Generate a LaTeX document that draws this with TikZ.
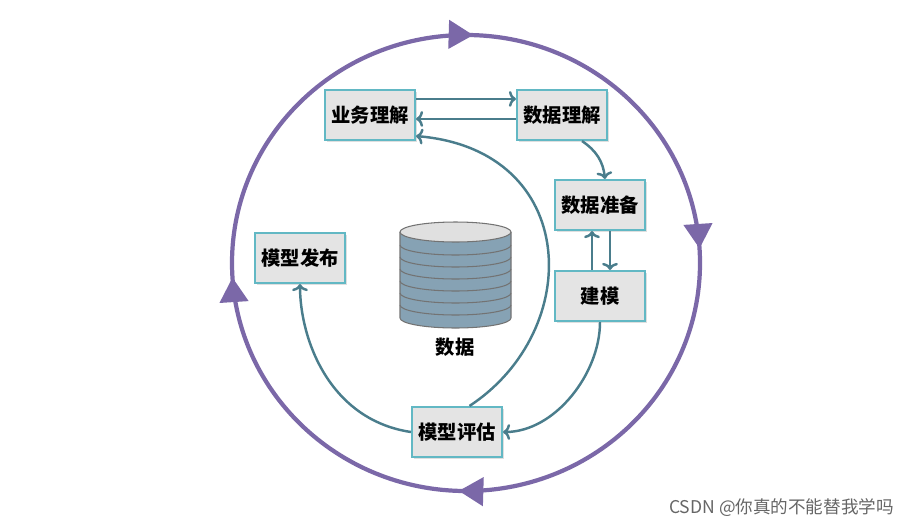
\documentclass[tikz,border=0pt]{standalone}
\usepackage{fontspec}
\newfontfamily\cjk{Noto Sans CJK SC}
\usetikzlibrary{positioning,shadows,arrows.meta,decorations.markings}
\definecolor{cyclecol}{HTML}{7B68A8}
\definecolor{flowcol}{HTML}{4A7D8C}
\definecolor{edgecol}{HTML}{62B8C4}
\definecolor{boxfill}{HTML}{E4E4E4}
\definecolor{drumcol}{HTML}{86A2B4}
\tikzset{
  phase/.style = {draw=edgecol, line width=1.2pt, fill=boxfill, minimum width=1.8cm,
    minimum height=1cm, font=\cjk\bfseries\fontsize{11}{11}\selectfont,
    drop shadow={shadow xshift=1.2pt, shadow yshift=-1.2pt, fill=black!25}},
  flow/.style = {draw=flowcol, line width=1.4pt, -{To[length=4pt,width=9pt]}}
}
\begin{document}
\begin{tikzpicture}[x=0.02cm, y=-0.02cm]
    \useasboundingbox (0,0) rectangle (909,528);

    % outer cycle
    \draw[cyclecol, line width=2.4pt, postaction={decorate}, decoration={markings,
      mark=at position 0.005 with {\arrow{Triangle[length=14pt,width=16pt]}},
      mark=at position 0.24 with {\arrow{Triangle[length=14pt,width=16pt]}},
      mark=at position 0.505 with {\arrow{Triangle[length=14pt,width=16pt]}},
      mark=at position 0.74 with {\arrow{Triangle[length=14pt,width=16pt]}}}]
      (466,263) ++(0,-228) arc[start angle=270, end angle=630, x radius=234, y radius=228];

    % phases
    \node[phase] (biz) at (370,115) {业务理解};
    \node[phase] (und) at (562,115) {数据理解};
    \node[phase] (prep) at (600,205) {数据准备};
    \node[phase] (model) at (600,296) {建模};
    \node[phase] (deploy) at (300,258) {模型发布};
    \node[phase] (eval) at (457,432) {模型评估};

    % data drum
    \fill[drumcol] (400,232) -- (400,318) arc[start angle=180, end angle=0, x radius=55.5, y radius=10]
      -- (511,232) -- cycle;
    \foreach \y in {245,257,269,281,293,305}
      \draw[black!55, line width=0.6pt] (400,\y) arc[start angle=180, end angle=0, x radius=55.5, y radius=10];
    \draw[black!55, line width=0.6pt] (400,232) -- (400,318) arc[start angle=180, end angle=0, x radius=55.5, y radius=10] -- (511,232);
    \draw[black!55, line width=0.6pt, fill=black!12] (455.5,232) ellipse[x radius=55.5, y radius=10];
    \node[font=\cjk\bfseries\fontsize{11}{11}\selectfont] (data) at (455,347) {数据};

    % flows
    \draw[flow] ([yshift=-0.2cm]biz.north east) -- ([yshift=-0.2cm]und.north west);
    \draw[flow] ([yshift=-0.6cm]und.north west) -- ([yshift=-0.6cm]biz.north east);
    \draw[flow] ([xshift=0.4cm]und.south) to[bend left=25] ([xshift=0.1cm]prep.north);
    \draw[flow] ([xshift=0.2cm]prep.south) -- ([xshift=0.2cm]model.north);
    \draw[flow] ([xshift=-0.16cm]model.north) -- ([xshift=-0.16cm]prep.south);
    \draw[flow] (model.south) to[out=270, in=0, looseness=0.9] (eval.east);
    \draw[flow] ([xshift=0.25cm]eval.north) .. controls (585,330) and (580,150) .. ([yshift=0.1cm]biz.south east);
    \draw[flow] (eval.west) .. controls (330,420) and (300,340) .. (deploy.south);

    \node[text=black!60, font=\cjk\fontsize{10}{10}\selectfont, anchor=east] (mark) at (900,508) {CSDN @你真的不能替我学吗};
\end{tikzpicture}
\end{document}
